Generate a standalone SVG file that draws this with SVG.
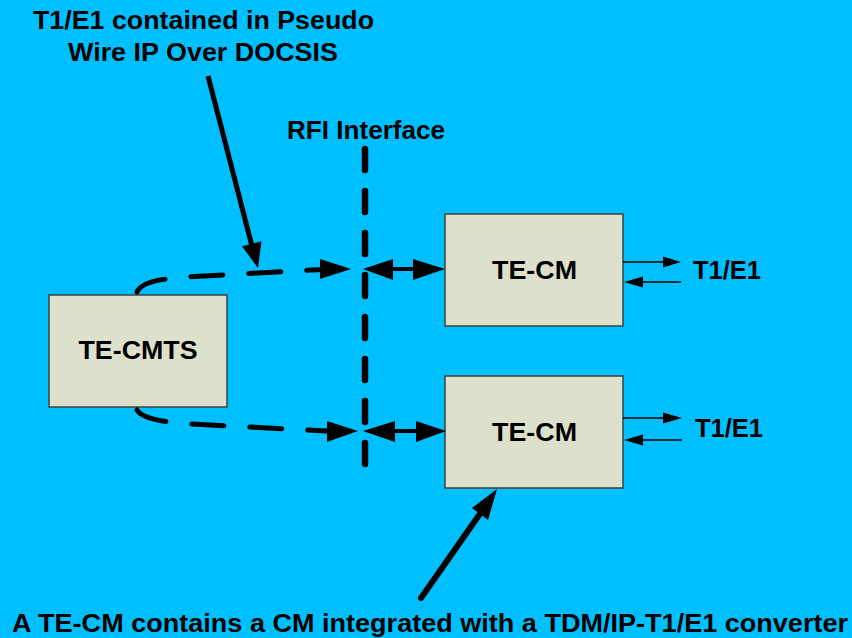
<svg xmlns="http://www.w3.org/2000/svg" width="852" height="638" viewBox="0 0 852 638">
<style>
.t{font-family:"Liberation Sans",Arial,sans-serif;font-weight:bold;fill:#000;}
.box{fill:#DDE0CB;stroke:#404040;stroke-width:1.5;}
.dash{fill:none;stroke:#000;stroke-width:5;stroke-linecap:round;stroke-dasharray:32 26;}
.thin{stroke:#000;stroke-width:1.5;fill:none;}
.thick{stroke:#000;stroke-width:4;fill:none;}
</style>
<rect x="0" y="0" width="852" height="638" fill="#00BFFF"/>
<g id="labels">
<text class="t" x="203.5" y="29" font-size="26" text-anchor="middle" textLength="341" lengthAdjust="spacingAndGlyphs">T1/E1 contained in Pseudo</text>
<text class="t" x="203" y="61" font-size="26" text-anchor="middle" textLength="270" lengthAdjust="spacingAndGlyphs">Wire IP Over DOCSIS</text>
<text class="t" x="287" y="139" font-size="25" textLength="158" lengthAdjust="spacingAndGlyphs">RFI Interface</text>
<text class="t" x="12" y="632" font-size="25" textLength="836" lengthAdjust="spacingAndGlyphs">A TE-CM contains a CM integrated with a TDM/IP-T1/E1 converter</text>
</g>
<g id="te-cmts">
<rect class="box" x="49" y="295" width="178" height="112"/>
<text class="t" x="138" y="359" font-size="26" text-anchor="middle" textLength="119" lengthAdjust="spacingAndGlyphs">TE-CMTS</text>
</g>
<g id="te-cm-1">
<rect class="box" x="445" y="214" width="178" height="112"/>
<text class="t" x="534.5" y="279" font-size="26" text-anchor="middle" textLength="85" lengthAdjust="spacingAndGlyphs">TE-CM</text>
</g>
<g id="te-cm-2">
<rect class="box" x="445" y="376" width="178" height="112"/>
<text class="t" x="534.5" y="441" font-size="26" text-anchor="middle" textLength="85" lengthAdjust="spacingAndGlyphs">TE-CM</text>
</g>
<g id="t1e1-1">
<text class="t" x="693" y="279" font-size="25" textLength="68" lengthAdjust="spacingAndGlyphs">T1/E1</text>
</g>
<g id="t1e1-2">
<text class="t" x="695" y="437" font-size="25" textLength="68" lengthAdjust="spacingAndGlyphs">T1/E1</text>
</g>
<g id="connectors">
<!-- RFI interface dashed line -->
<path d="M365,149 L365,465" fill="none" stroke="#000" stroke-width="6.5" stroke-linecap="round" stroke-dasharray="21 21"/>
<!-- dashed pseudo wires -->
<path class="dash" d="M137,292 C141,282 160,279 185,277 L322,269.5"/>
<polygon points="351,269 320,259 320,279"/>
<path class="dash" d="M137,410 C142,418 160,422 190,424 L327,431"/>
<polygon points="358,431 327,421 327,442"/>
<!-- double arrows -->
<line class="thick" x1="390" y1="269" x2="416" y2="269"/>
<polygon points="363,269 393,259 393,280"/>
<polygon points="445,269 413,259 413,280"/>
<line class="thick" x1="392" y1="431" x2="418" y2="431"/>
<polygon points="363,431 395,421 395,442"/>
<polygon points="446,431 416,421 416,442"/>
<!-- T1/E1 arrows -->
<line class="thin" x1="623" y1="262" x2="665" y2="262"/>
<polygon points="681,262 663,256.5 663,267.5"/>
<line class="thin" x1="641" y1="282" x2="681" y2="282"/>
<polygon points="624,282 643,276.5 643,287.5"/>
<line class="thin" x1="623" y1="418" x2="665" y2="418"/>
<polygon points="682,418 663,412.5 663,423.5"/>
<line class="thin" x1="641" y1="440" x2="682" y2="440"/>
<polygon points="624,440 643,434.5 643,445.5"/>
<!-- label arrows -->
<line x1="208" y1="76" x2="253" y2="250" stroke="#000" stroke-width="5"/>
<polygon points="258,268 261.5,241.3 242,246.3"/>
<line x1="421" y1="598" x2="484" y2="508" stroke="#000" stroke-width="6" stroke-linecap="round"/>
<polygon points="497,489 488,520 472,508"/>
</g>
</svg>
